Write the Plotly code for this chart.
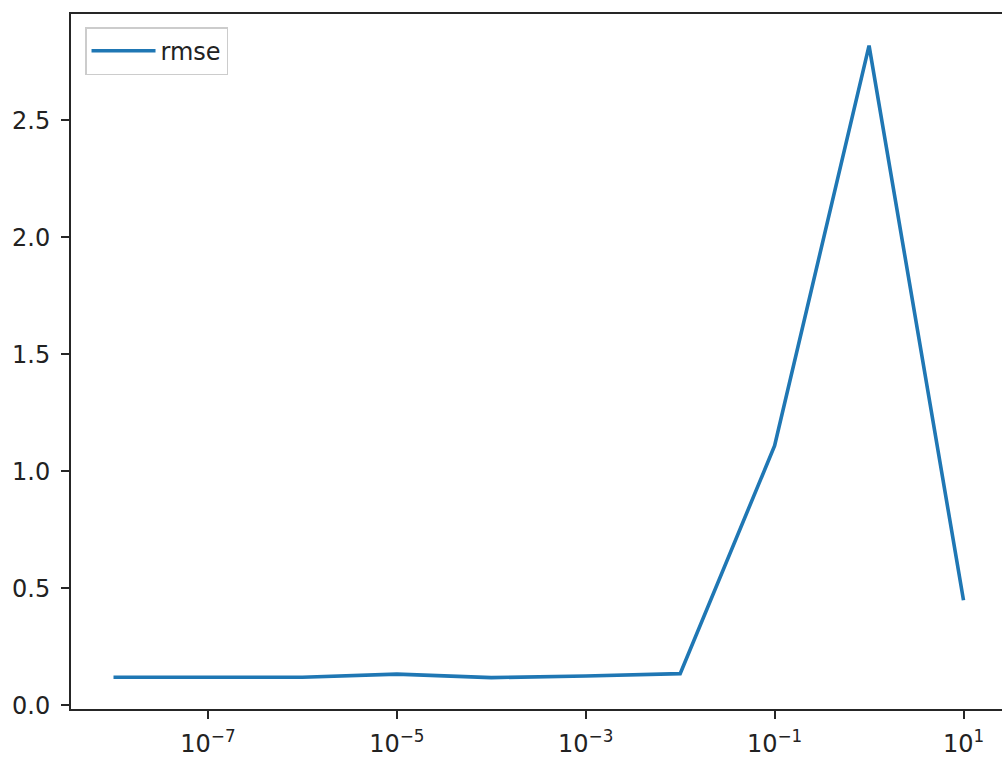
import plotly.graph_objects as go

# Data
alphas = [1e-8, 1e-7, 1e-6, 1e-5, 1e-4, 1e-3, 1e-2, 1e-1, 1e0, 1e1]
rmse = [0.121, 0.121, 0.121, 0.134, 0.119, 0.126, 0.136, 1.11, 2.82, 0.45]

x_tickvals = [1e-7, 1e-5, 1e-3, 1e-1, 1e1]
x_ticktext = ["10<sup>\u22127</sup>", "10<sup>\u22125</sup>", "10<sup>\u22123</sup>",
              "10<sup>\u22121</sup>", "10<sup>1</sup>"]
y_tickvals = [0.0, 0.5, 1.0, 1.5, 2.0, 2.5]

font_family = "DejaVu Sans"
text_color = "#222222"
axis_color = "#262626"
fs = 24

fig = go.Figure()
fig.add_trace(go.Scatter(
    x=alphas, y=rmse, mode="lines", name="rmse",
    line=dict(color="#1f77b4", width=3.6),
))

fig.update_layout(
    width=1006, height=762,
    margin=dict(l=71, r=0, t=14, b=53, pad=0),
    paper_bgcolor="white", plot_bgcolor="white",
    font=dict(family=font_family, size=fs, color=text_color),
    showlegend=True,
    legend=dict(
        x=0.015, y=0.981, xanchor="left", yanchor="top",
        bgcolor="rgba(255,255,255,0.8)", bordercolor="#cccccc", borderwidth=1.5,
        font=dict(family=font_family, size=fs, color=text_color),
        itemwidth=64,
    ),
    xaxis=dict(
        type="log", range=[-8.45, 1.45],
        tickvals=x_tickvals, ticktext=x_ticktext,
        showgrid=False, zeroline=False, automargin=False,
        showline=True, linecolor=axis_color, linewidth=2, mirror=True,
        ticks="outside", ticklen=8, tickwidth=2, tickcolor=axis_color,
        ticklabelstandoff=4,
        tickfont=dict(family=font_family, size=fs, color=text_color),
    ),
    yaxis=dict(
        range=[-0.015, 2.955],
        tickvals=y_tickvals, tickformat=".1f",
        showgrid=False, zeroline=False, automargin=False,
        showline=True, linecolor=axis_color, linewidth=2,
        ticks="outside", ticklen=8, tickwidth=2, tickcolor=axis_color,
        ticklabelstandoff=6,
        tickfont=dict(family=font_family, size=fs, color=text_color),
    ),
)

fig.write_html(
    "out.html",
    config={"displayModeBar": False},
    post_script="document.body.style.margin='0';document.body.style.overflow='hidden';",
)
